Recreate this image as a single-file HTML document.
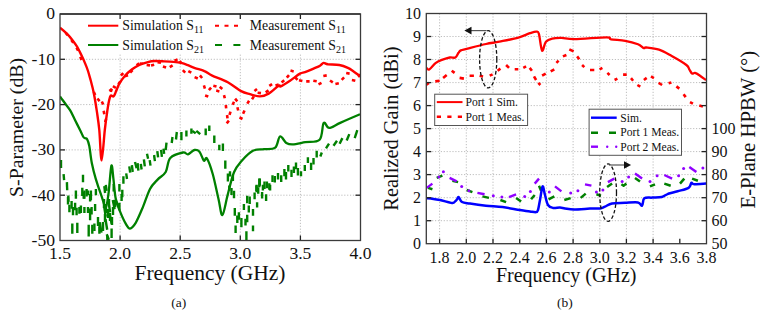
<!DOCTYPE html><html><head><meta charset="utf-8"><style>html,body{margin:0;padding:0;background:#fff;width:764px;height:315px;overflow:hidden}</style></head><body><svg width="764" height="315" viewBox="0 0 764 315" style="display:block">
<rect width="764" height="315" fill="#fff"/>
<g stroke="#bdbdbd" stroke-width="1" stroke-dasharray="1.2,1.7"><line x1="120.1" y1="14.0" x2="120.1" y2="240.5"/><line x1="180.2" y1="14.0" x2="180.2" y2="240.5"/><line x1="240.3" y1="14.0" x2="240.3" y2="240.5"/><line x1="300.4" y1="14.0" x2="300.4" y2="240.5"/><line x1="60.0" y1="59.3" x2="360.5" y2="59.3"/><line x1="60.0" y1="104.6" x2="360.5" y2="104.6"/><line x1="60.0" y1="149.9" x2="360.5" y2="149.9"/><line x1="60.0" y1="195.2" x2="360.5" y2="195.2"/></g>
<defs><clipPath id="cl"><rect x="60.0" y="14.0" width="300.5" height="226.5"/></clipPath><clipPath id="cr"><rect x="426.3" y="13.5" width="280.2" height="230.2"/></clipPath></defs>
<g clip-path="url(#cl)" fill="none" stroke-linejoin="round">
<g stroke="#008000" stroke-width="2.4"><line x1="61.0" y1="160.1" x2="61.0" y2="167.9"/><line x1="63.6" y1="174.1" x2="64.1" y2="180.2"/><line x1="66.9" y1="182.1" x2="67.2" y2="190.2"/><line x1="68.3" y1="195.5" x2="68.5" y2="201.9"/><line x1="75.9" y1="190.5" x2="75.9" y2="198.8"/><line x1="83.0" y1="174.8" x2="83.0" y2="182.3"/><line x1="82.3" y1="187.7" x2="82.3" y2="195.9"/><line x1="84.4" y1="190.5" x2="84.4" y2="198.8"/><line x1="86.6" y1="189.1" x2="86.6" y2="196.6"/><line x1="88.0" y1="190.5" x2="88.0" y2="195.2"/><line x1="90.9" y1="190.5" x2="90.9" y2="200.2"/><line x1="95.9" y1="189.1" x2="95.9" y2="195.2"/><line x1="68.0" y1="197.0" x2="68.0" y2="204.5"/><line x1="69.4" y1="204.8" x2="69.4" y2="212.3"/><line x1="71.6" y1="201.1" x2="71.6" y2="208.8"/><line x1="73.0" y1="207.0" x2="73.0" y2="215.2"/><line x1="75.1" y1="202.7" x2="75.1" y2="210.2"/><line x1="76.6" y1="207.7" x2="76.6" y2="215.2"/><line x1="79.4" y1="207.0" x2="79.4" y2="213.8"/><line x1="80.9" y1="205.5" x2="80.9" y2="213.0"/><line x1="84.4" y1="207.0" x2="84.4" y2="213.0"/><line x1="88.0" y1="207.0" x2="88.0" y2="213.0"/><line x1="90.1" y1="208.4" x2="90.1" y2="220.2"/><line x1="91.6" y1="207.0" x2="91.6" y2="214.5"/><line x1="95.1" y1="204.1" x2="95.1" y2="210.9"/><line x1="72.3" y1="223.4" x2="72.3" y2="233.8"/><line x1="77.3" y1="222.7" x2="77.3" y2="233.0"/><line x1="88.7" y1="224.8" x2="88.7" y2="236.6"/><line x1="92.3" y1="224.8" x2="92.3" y2="233.8"/><line x1="94.4" y1="223.4" x2="94.4" y2="230.9"/><line x1="98.0" y1="217.0" x2="98.0" y2="225.9"/><line x1="99.4" y1="226.2" x2="99.4" y2="233.8"/><line x1="83.7" y1="192.1" x2="83.7" y2="198.8"/><line x1="90.1" y1="194.1" x2="90.1" y2="201.6"/><line x1="104.3" y1="186.2" x2="105.1" y2="193.0"/><line x1="105.8" y1="184.8" x2="106.6" y2="190.9"/><line x1="113.7" y1="184.1" x2="113.7" y2="191.6"/><line x1="119.4" y1="184.1" x2="119.4" y2="191.6"/><line x1="122.3" y1="189.8" x2="122.3" y2="197.3"/><line x1="123.4" y1="176.2" x2="123.4" y2="183.8"/><line x1="100.0" y1="222.7" x2="100.0" y2="231.6"/><line x1="103.0" y1="222.0" x2="103.0" y2="230.9"/><line x1="111.6" y1="228.4" x2="111.6" y2="238.0"/><line x1="107.3" y1="235.5" x2="107.3" y2="240.9"/><line x1="115.1" y1="199.8" x2="115.1" y2="207.3"/><line x1="119.4" y1="202.7" x2="119.4" y2="210.2"/><line x1="121.6" y1="194.1" x2="121.6" y2="200.9"/><line x1="104.0" y1="199.1" x2="104.0" y2="207.9"/><line x1="106.0" y1="204.1" x2="106.0" y2="212.9"/><line x1="108.0" y1="209.1" x2="108.0" y2="217.9"/><line x1="110.0" y1="213.1" x2="110.0" y2="220.9"/><line x1="105.0" y1="214.1" x2="105.0" y2="221.9"/><line x1="112.0" y1="217.1" x2="112.0" y2="224.9"/><line x1="109.0" y1="199.1" x2="109.0" y2="206.9"/><line x1="113.0" y1="207.1" x2="113.0" y2="214.9"/><line x1="165.7" y1="150.2" x2="166.5" y2="142.7"/><line x1="171.7" y1="143.0" x2="172.5" y2="137.0"/><line x1="176.0" y1="139.5" x2="176.8" y2="132.0"/><line x1="181.4" y1="140.2" x2="181.4" y2="132.0"/><line x1="186.4" y1="136.6" x2="186.4" y2="130.5"/><line x1="191.4" y1="133.8" x2="191.4" y2="128.4"/><line x1="192.3" y1="130.9" x2="195.7" y2="133.4"/><line x1="196.3" y1="130.8" x2="200.2" y2="134.2"/><line x1="205.7" y1="135.2" x2="205.7" y2="128.4"/><line x1="209.3" y1="130.9" x2="209.3" y2="125.5"/><line x1="214.3" y1="135.5" x2="214.3" y2="143.0"/><line x1="219.3" y1="144.8" x2="219.3" y2="150.2"/><line x1="222.9" y1="143.4" x2="222.9" y2="150.9"/><line x1="225.3" y1="160.5" x2="225.3" y2="168.8"/><line x1="227.9" y1="173.4" x2="227.9" y2="181.6"/><line x1="230.0" y1="171.2" x2="230.0" y2="176.6"/><line x1="232.9" y1="174.8" x2="232.9" y2="180.9"/><line x1="229.3" y1="185.5" x2="229.3" y2="190.9"/><line x1="256.4" y1="185.5" x2="256.4" y2="190.9"/><line x1="259.3" y1="178.4" x2="259.3" y2="187.3"/><line x1="231.5" y1="188.1" x2="231.5" y2="195.0"/><line x1="234.0" y1="190.8" x2="234.0" y2="198.3"/><line x1="234.8" y1="208.1" x2="234.8" y2="215.7"/><line x1="237.3" y1="215.5" x2="237.3" y2="223.1"/><line x1="238.9" y1="212.2" x2="238.9" y2="219.8"/><line x1="241.4" y1="218.0" x2="241.4" y2="227.2"/><line x1="235.6" y1="225.4" x2="235.6" y2="233.0"/><line x1="243.9" y1="204.0" x2="243.9" y2="209.9"/><line x1="245.5" y1="218.8" x2="245.5" y2="225.6"/><line x1="247.2" y1="214.7" x2="247.2" y2="222.3"/><line x1="246.4" y1="231.2" x2="246.4" y2="240.4"/><line x1="247.2" y1="195.7" x2="247.2" y2="203.3"/><line x1="249.7" y1="196.5" x2="249.7" y2="204.1"/><line x1="248.8" y1="205.6" x2="248.8" y2="212.4"/><line x1="253.0" y1="208.9" x2="253.0" y2="215.7"/><line x1="253.0" y1="225.4" x2="253.0" y2="231.3"/><line x1="254.6" y1="192.4" x2="254.6" y2="199.2"/><line x1="257.1" y1="202.3" x2="257.1" y2="207.4"/><line x1="256.6" y1="184.8" x2="256.6" y2="192.2"/><line x1="258.2" y1="187.2" x2="258.2" y2="193.8"/><line x1="259.8" y1="178.5" x2="259.8" y2="185.8"/><line x1="262.1" y1="192.0" x2="262.1" y2="198.5"/><line x1="262.9" y1="184.8" x2="262.9" y2="190.6"/><line x1="264.5" y1="181.6" x2="264.5" y2="189.0"/><line x1="266.9" y1="181.6" x2="266.9" y2="188.2"/><line x1="266.1" y1="194.3" x2="266.1" y2="200.9"/><line x1="269.3" y1="183.2" x2="269.3" y2="189.8"/><line x1="270.1" y1="184.8" x2="270.1" y2="190.6"/><line x1="272.5" y1="175.3" x2="272.5" y2="181.9"/><line x1="274.8" y1="176.1" x2="274.8" y2="182.6"/><line x1="278.0" y1="172.9" x2="278.0" y2="179.5"/><line x1="281.2" y1="175.3" x2="281.2" y2="181.9"/><line x1="284.4" y1="168.9" x2="284.4" y2="176.3"/><line x1="286.0" y1="172.1" x2="286.0" y2="179.5"/><line x1="288.3" y1="165.0" x2="288.3" y2="171.5"/><line x1="291.5" y1="169.7" x2="291.5" y2="177.1"/><line x1="293.9" y1="166.6" x2="293.9" y2="173.1"/><line x1="296.0" y1="162.6" x2="296.0" y2="169.2"/><line x1="297.9" y1="168.1" x2="297.9" y2="175.5"/><line x1="301.0" y1="171.3" x2="301.0" y2="176.3"/><line x1="304.8" y1="165.1" x2="304.8" y2="170.9"/><line x1="307.9" y1="157.2" x2="307.9" y2="163.0"/><line x1="311.1" y1="162.8" x2="311.1" y2="170.1"/><line x1="313.5" y1="158.0" x2="313.5" y2="164.6"/><line x1="316.7" y1="150.8" x2="316.7" y2="157.4"/><line x1="320.3" y1="156.5" x2="321.8" y2="152.5"/><line x1="326.0" y1="148.4" x2="329.0" y2="143.6"/><line x1="333.5" y1="145.7" x2="337.0" y2="140.8"/><line x1="339.6" y1="143.7" x2="342.4" y2="138.1"/><line x1="346.7" y1="140.5" x2="349.3" y2="134.1"/><line x1="354.7" y1="138.2" x2="357.3" y2="130.1"/><line x1="126.2" y1="173.4" x2="127.0" y2="179.0"/><line x1="129.3" y1="166.4" x2="130.2" y2="172.6"/><line x1="131.9" y1="165.1" x2="132.7" y2="172.0"/><line x1="135.0" y1="162.0" x2="136.6" y2="168.2"/><line x1="137.6" y1="163.2" x2="138.4" y2="170.7"/><line x1="140.8" y1="163.9" x2="141.6" y2="169.5"/><line x1="143.9" y1="159.4" x2="144.8" y2="166.3"/><line x1="147.0" y1="153.7" x2="148.1" y2="158.7"/><line x1="149.7" y1="160.1" x2="150.5" y2="165.7"/><line x1="154.1" y1="155.0" x2="154.9" y2="161.2"/><line x1="157.3" y1="151.2" x2="158.1" y2="157.4"/><line x1="161.1" y1="149.9" x2="161.9" y2="156.8"/><line x1="163.6" y1="148.6" x2="164.1" y2="153.9"/><line x1="104.1" y1="206.1" x2="105.7" y2="216.6"/><line x1="108.5" y1="201.7" x2="110.1" y2="212.2"/><line x1="112.8" y1="200.1" x2="114.6" y2="209.3"/><line x1="115.6" y1="200.2" x2="119.2" y2="207.8"/><line x1="109.8" y1="214.8" x2="111.7" y2="223.9"/><line x1="105.5" y1="219.1" x2="107.2" y2="229.8"/><line x1="99.6" y1="222.1" x2="101.5" y2="232.6"/><line x1="106.7" y1="234.2" x2="108.9" y2="239.8"/></g>
<g stroke="#ff0000" stroke-width="2.6"><line x1="65.6" y1="32.7" x2="67.6" y2="35.3"/><line x1="71.3" y1="39.9" x2="73.3" y2="42.7"/><line x1="76.5" y1="47.6" x2="78.1" y2="50.6"/><line x1="80.3" y1="56.8" x2="81.5" y2="60.0"/><line x1="93.8" y1="91.9" x2="95.2" y2="95.1"/><line x1="97.4" y1="98.5" x2="99.6" y2="101.1"/><line x1="101.8" y1="101.4" x2="103.2" y2="104.6"/><line x1="103.7" y1="110.8" x2="104.3" y2="114.2"/><line x1="105.1" y1="122.1" x2="106.1" y2="118.9"/><line x1="110.8" y1="91.9" x2="111.6" y2="88.7"/><line x1="115.9" y1="88.0" x2="112.9" y2="86.2"/><line x1="109.4" y1="91.1" x2="112.0" y2="88.9"/><line x1="118.3" y1="84.3" x2="120.3" y2="81.5"/><line x1="120.9" y1="75.5" x2="123.3" y2="73.1"/><line x1="124.8" y1="76.2" x2="128.0" y2="75.2"/><line x1="130.2" y1="72.6" x2="132.6" y2="70.2"/><line x1="136.6" y1="65.3" x2="139.2" y2="63.3"/><line x1="139.7" y1="63.5" x2="143.1" y2="63.7"/><line x1="146.6" y1="65.0" x2="150.0" y2="65.4"/><line x1="151.0" y1="65.6" x2="154.2" y2="64.8"/><line x1="157.6" y1="62.1" x2="161.0" y2="62.7"/><line x1="162.9" y1="66.6" x2="166.1" y2="67.6"/><line x1="169.8" y1="67.1" x2="172.6" y2="65.3"/><line x1="174.4" y1="60.6" x2="177.6" y2="59.4"/><line x1="179.7" y1="61.0" x2="181.7" y2="63.8"/><line x1="182.8" y1="70.2" x2="185.2" y2="72.6"/><line x1="188.3" y1="71.1" x2="191.3" y2="72.7"/><line x1="194.6" y1="77.1" x2="197.8" y2="78.5"/><line x1="199.9" y1="75.4" x2="202.1" y2="78.0"/><line x1="203.9" y1="85.4" x2="204.9" y2="88.6"/><line x1="205.1" y1="95.5" x2="208.3" y2="96.5"/><line x1="208.9" y1="90.2" x2="211.1" y2="87.6"/><line x1="213.3" y1="85.8" x2="216.5" y2="86.6"/><line x1="216.2" y1="90.6" x2="219.4" y2="91.4"/><line x1="219.7" y1="86.7" x2="222.3" y2="88.9"/><line x1="224.0" y1="95.1" x2="224.8" y2="98.3"/><line x1="225.8" y1="105.0" x2="226.2" y2="108.4"/><line x1="227.1" y1="115.0" x2="227.5" y2="118.4"/><line x1="226.7" y1="123.3" x2="228.9" y2="120.7"/><line x1="229.5" y1="114.9" x2="230.5" y2="111.7"/><line x1="232.6" y1="104.8" x2="234.0" y2="101.8"/><line x1="235.1" y1="98.7" x2="237.3" y2="101.3"/><line x1="237.4" y1="107.3" x2="238.2" y2="110.5"/><line x1="239.5" y1="117.4" x2="242.5" y2="119.0"/><line x1="243.1" y1="113.8" x2="244.5" y2="110.6"/><line x1="247.3" y1="103.6" x2="249.1" y2="100.8"/><line x1="252.0" y1="99.3" x2="253.8" y2="96.5"/><line x1="254.4" y1="91.0" x2="257.0" y2="89.0"/><line x1="257.6" y1="92.7" x2="261.0" y2="93.1"/><line x1="265.7" y1="92.4" x2="268.5" y2="90.4"/><line x1="269.3" y1="85.9" x2="272.1" y2="84.1"/><line x1="275.5" y1="85.5" x2="278.7" y2="84.5"/><line x1="281.6" y1="82.5" x2="284.2" y2="80.3"/><line x1="286.8" y1="77.7" x2="289.0" y2="75.1"/><line x1="290.5" y1="70.6" x2="293.7" y2="71.4"/><line x1="295.3" y1="77.3" x2="297.5" y2="79.9"/><line x1="299.0" y1="80.3" x2="302.4" y2="81.1"/><line x1="306.2" y1="81.4" x2="309.6" y2="81.4"/><line x1="313.3" y1="80.7" x2="316.7" y2="81.3"/><line x1="318.5" y1="84.4" x2="321.5" y2="82.8"/><line x1="323.3" y1="76.0" x2="326.7" y2="75.4"/><line x1="330.0" y1="80.5" x2="332.8" y2="82.3"/><line x1="335.4" y1="84.0" x2="338.8" y2="83.2"/><line x1="341.7" y1="79.8" x2="344.1" y2="77.4"/><line x1="346.2" y1="73.0" x2="349.6" y2="73.6"/><line x1="351.9" y1="80.0" x2="355.3" y2="80.8"/><line x1="358.0" y1="76.8" x2="360.6" y2="74.6"/></g>
<path d="M60.0,96.4 C60.8,97.6 63.3,101.0 65.0,103.3 C66.7,105.6 68.5,107.6 70.2,110.4 C71.9,113.2 73.3,116.6 75.0,120.0 C76.7,123.4 79.0,127.9 80.4,130.7 C81.8,133.5 82.6,135.7 83.4,137.0 C84.2,138.3 84.7,138.0 85.3,138.3 C85.9,138.6 86.3,137.7 87.0,139.0 C87.7,140.3 88.5,142.0 89.3,146.0 C90.1,150.0 90.7,157.6 91.8,163.0 C92.9,168.4 94.1,173.2 95.7,178.6 C97.3,184.0 99.7,191.0 101.4,195.7 C103.1,200.4 104.5,207.5 105.7,207.0 C106.9,206.5 107.6,199.8 108.6,192.9 C109.5,186.0 110.6,168.1 111.4,165.7 C112.2,163.3 112.7,173.1 113.4,178.6 C114.1,184.1 114.6,193.1 115.7,198.6 C116.8,204.1 118.3,207.2 120.0,211.4 C121.7,215.6 124.0,220.8 125.7,223.7 C127.4,226.6 128.3,228.7 130.0,228.6 C131.7,228.5 133.5,226.5 135.7,222.9 C137.8,219.3 140.5,212.8 142.9,207.1 C145.3,201.4 147.6,193.6 150.0,189.0 C152.4,184.4 155.0,182.4 157.6,179.6 C160.2,176.8 163.6,175.6 165.7,172.0 C167.8,168.4 167.4,161.2 170.3,158.0 C173.2,154.8 180.1,153.1 183.0,152.5 C185.9,151.9 186.1,154.7 188.0,154.3 C189.9,153.9 192.5,150.4 194.4,150.0 C196.3,149.6 197.9,149.9 199.5,151.7 C201.1,153.5 202.6,159.4 203.8,160.6 C205.1,161.8 205.5,156.3 207.0,158.6 C208.5,160.9 210.9,167.5 212.8,174.3 C214.7,181.1 217.0,192.7 218.6,199.5 C220.2,206.3 220.9,215.7 222.4,215.0 C223.9,214.3 225.6,202.7 227.5,195.6 C229.4,188.5 231.6,178.1 234.0,172.3 C236.4,166.5 238.7,164.3 241.8,160.7 C245.0,157.1 249.2,152.7 252.9,150.8 C256.6,148.9 260.3,149.7 264.0,149.2 C267.7,148.7 272.5,149.7 275.2,147.6 C277.9,145.5 278.1,137.3 280.0,136.5 C281.9,135.7 284.2,141.6 286.3,142.9 C288.4,144.2 289.4,144.5 292.6,144.4 C295.8,144.3 300.8,143.0 305.3,142.2 C309.8,141.4 316.5,142.9 319.6,139.7 C322.7,136.5 322.1,124.9 323.7,122.9 C325.3,120.9 326.4,127.9 329.1,127.9 C331.9,127.9 335.1,125.2 340.2,122.9 C345.3,120.6 356.7,115.7 360.0,114.3" stroke="#008000" stroke-width="2.3"/>
<path d="M60.0,27.7 C61.1,28.6 64.5,31.4 66.6,33.4 C68.6,35.4 70.5,37.6 72.3,39.9 C74.1,42.2 75.8,44.4 77.3,47.0 C78.8,49.6 80.3,52.9 81.6,55.6 C82.9,58.3 84.0,60.8 85.1,63.4 C86.2,66.0 87.1,68.2 88.0,71.0 C88.9,73.8 89.6,76.4 90.6,80.0 C91.5,83.6 92.7,87.4 93.7,92.7 C94.8,98.0 96.0,105.5 96.9,111.7 C97.8,117.9 98.5,121.9 99.3,130.0 C100.1,138.1 100.7,160.4 101.6,160.4 C102.5,160.4 103.9,138.1 104.8,130.0 C105.7,121.9 106.5,116.5 107.2,111.7 C107.9,106.9 108.4,103.7 109.0,101.0 C109.6,98.3 109.9,96.5 110.7,95.7 C111.5,94.9 112.8,97.0 113.6,96.4 C114.4,95.8 114.8,94.2 115.7,92.1 C116.7,90.0 117.8,86.3 119.3,83.6 C120.8,80.9 122.9,78.1 125.0,75.7 C127.1,73.3 129.7,71.1 132.1,69.3 C134.5,67.5 136.7,66.2 139.3,65.0 C141.9,63.8 145.4,62.8 147.9,62.1 C150.4,61.4 151.8,61.1 154.5,61.0 C157.2,60.9 160.8,61.2 164.0,61.4 C167.2,61.5 170.7,61.6 173.6,61.9 C176.5,62.1 178.8,62.3 181.2,62.9 C183.6,63.5 185.6,64.3 187.9,65.2 C190.2,66.1 192.2,67.1 195.0,68.1 C197.8,69.1 201.5,69.8 204.4,71.1 C207.3,72.3 208.3,73.8 212.2,75.6 C216.1,77.4 223.0,79.6 227.8,82.2 C232.6,84.8 237.4,89.1 241.1,91.1 C244.8,93.1 246.8,93.3 250.0,94.2 C253.2,95.1 256.9,96.5 260.0,96.4 C263.1,96.3 265.5,95.4 268.6,93.6 C271.7,91.8 276.6,86.9 278.6,85.7 C280.6,84.5 278.8,87.2 280.7,86.4 C282.6,85.6 286.8,82.8 290.0,80.7 C293.2,78.6 297.5,75.0 300.0,73.6 C302.5,72.2 302.7,72.9 305.0,72.1 C307.3,71.3 311.1,69.7 313.6,68.6 C316.1,67.5 318.3,66.7 320.0,65.7 C321.7,64.8 322.3,63.1 323.6,62.9 C324.9,62.7 325.3,63.9 327.9,64.3 C330.5,64.6 336.0,64.4 339.3,65.0 C342.6,65.6 345.5,66.8 347.9,67.9 C350.3,69.0 351.5,70.0 353.6,71.4 C355.7,72.8 359.4,75.7 360.5,76.5" stroke="#ff0000" stroke-width="2.4"/>
</g>
<g stroke="#222" stroke-width="1.3"><line x1="120.1" y1="14.0" x2="120.1" y2="19.0"/><line x1="120.1" y1="240.5" x2="120.1" y2="235.5"/><line x1="180.2" y1="14.0" x2="180.2" y2="19.0"/><line x1="180.2" y1="240.5" x2="180.2" y2="235.5"/><line x1="240.3" y1="14.0" x2="240.3" y2="19.0"/><line x1="240.3" y1="240.5" x2="240.3" y2="235.5"/><line x1="300.4" y1="14.0" x2="300.4" y2="19.0"/><line x1="300.4" y1="240.5" x2="300.4" y2="235.5"/><line x1="60.0" y1="59.3" x2="65.0" y2="59.3"/><line x1="360.5" y1="59.3" x2="355.5" y2="59.3"/><line x1="60.0" y1="104.6" x2="65.0" y2="104.6"/><line x1="360.5" y1="104.6" x2="355.5" y2="104.6"/><line x1="60.0" y1="149.9" x2="65.0" y2="149.9"/><line x1="360.5" y1="149.9" x2="355.5" y2="149.9"/><line x1="60.0" y1="195.2" x2="65.0" y2="195.2"/><line x1="360.5" y1="195.2" x2="355.5" y2="195.2"/></g>
<rect x="60.0" y="14.0" width="300.5" height="226.5" fill="none" stroke="#3a3a3a" stroke-width="1.3"/>
<g font-family='"Liberation Serif", serif' font-size="17.6" fill="#111"><text x="55" y="19.3" text-anchor="end">0</text><text x="55" y="64.6" text-anchor="end">-10</text><text x="55" y="109.9" text-anchor="end">-20</text><text x="55" y="155.2" text-anchor="end">-30</text><text x="55" y="200.5" text-anchor="end">-40</text><text x="55" y="245.8" text-anchor="end">-50</text><text x="60.0" y="259.4" text-anchor="middle">1.5</text><text x="120.1" y="259.4" text-anchor="middle">2.0</text><text x="180.2" y="259.4" text-anchor="middle">2.5</text><text x="240.3" y="259.4" text-anchor="middle">3.0</text><text x="300.4" y="259.4" text-anchor="middle">3.5</text><text x="360.5" y="259.4" text-anchor="middle">4.0</text></g>
<text x="210" y="280" text-anchor="middle" font-family='"Liberation Serif", serif' font-size="21.5" fill="#111">Frequency (GHz)</text>
<text transform="translate(22.7,127.4) rotate(-90)" text-anchor="middle" font-family='"Liberation Serif", serif' font-size="19.8" fill="#111">S-Parameter (dB)</text>
<text x="178.7" y="306.5" text-anchor="middle" font-family='"Liberation Serif", serif' font-size="13.5" fill="#111">(a)</text>
<rect x="84" y="15" width="272" height="38" fill="#fff"/><line x1="88" y1="25.7" x2="118.3" y2="25.7" stroke="#ff0000" stroke-width="2"/><line x1="88" y1="45" x2="118.3" y2="45" stroke="#008000" stroke-width="2"/><line x1="215" y1="25.7" x2="240.4" y2="25.7" stroke="#ff0000" stroke-width="2" stroke-dasharray="4,5.5"/><line x1="215" y1="45" x2="240.4" y2="45" stroke="#008000" stroke-width="2" stroke-dasharray="7,11.4"/>
<text x="122.3" y="30.2" font-family='"Liberation Serif", serif' font-size="13.8" fill="#111">Simulation S<tspan font-size="10" dy="3">11</tspan></text>
<text x="122.3" y="49.5" font-family='"Liberation Serif", serif' font-size="13.8" fill="#111">Simulation S<tspan font-size="10" dy="3">21</tspan></text>
<text x="249.8" y="30.2" font-family='"Liberation Serif", serif' font-size="13.8" fill="#111">Measurement S<tspan font-size="10" dy="3">11</tspan></text>
<text x="249.8" y="49.5" font-family='"Liberation Serif", serif' font-size="13.8" fill="#111">Measurement S<tspan font-size="10" dy="3">21</tspan></text>
<g stroke="#222" stroke-width="1.3"><line x1="120.1" y1="14.0" x2="120.1" y2="19.0"/><line x1="180.2" y1="14.0" x2="180.2" y2="19.0"/><line x1="240.3" y1="14.0" x2="240.3" y2="19.0"/><line x1="300.4" y1="14.0" x2="300.4" y2="19.0"/></g>
<line x1="60.0" y1="14.0" x2="360.5" y2="14.0" stroke="#333" stroke-width="1.3"/>
<g stroke="#bdbdbd" stroke-width="1" stroke-dasharray="1.2,1.7"><line x1="439.6" y1="13.5" x2="439.6" y2="243.7"/><line x1="466.3" y1="13.5" x2="466.3" y2="243.7"/><line x1="493.0" y1="13.5" x2="493.0" y2="243.7"/><line x1="519.7" y1="13.5" x2="519.7" y2="243.7"/><line x1="546.4" y1="13.5" x2="546.4" y2="243.7"/><line x1="573.1" y1="13.5" x2="573.1" y2="243.7"/><line x1="599.8" y1="13.5" x2="599.8" y2="243.7"/><line x1="626.4" y1="13.5" x2="626.4" y2="243.7"/><line x1="653.1" y1="13.5" x2="653.1" y2="243.7"/><line x1="426.3" y1="220.7" x2="706.5" y2="220.7"/><line x1="426.3" y1="197.7" x2="706.5" y2="197.7"/><line x1="426.3" y1="174.6" x2="706.5" y2="174.6"/><line x1="426.3" y1="151.6" x2="706.5" y2="151.6"/><line x1="426.3" y1="128.6" x2="706.5" y2="128.6"/><line x1="426.3" y1="105.6" x2="706.5" y2="105.6"/><line x1="426.3" y1="82.6" x2="706.5" y2="82.6"/><line x1="426.3" y1="59.5" x2="706.5" y2="59.5"/><line x1="426.3" y1="36.5" x2="706.5" y2="36.5"/></g>
<g clip-path="url(#cr)" fill="none" stroke-linejoin="round">
<g stroke="#ff0000" stroke-width="2.6"><path d="M426.0,85.0 L428.9,82.9"/><path d="M435.3,81.4 L439.6,80.7"/><path d="M443.1,77.9 L446.7,75.0"/><path d="M451.7,70.7 L454.6,72.9"/><path d="M459.6,77.9 L463.9,78.6"/><path d="M469.6,75.7 L473.9,75.7"/><path d="M479.6,75.7 L483.1,76.4"/><path d="M489.7,75.7 L492.6,74.3"/><path d="M497.6,70.7 L500.4,68.6"/><path d="M506.1,65.0 L509.0,67.9"/><path d="M514.7,69.3 L518.3,69.3"/><path d="M523.3,67.9 L526.1,66.4"/><path d="M529.7,67.9 L531.9,70.7"/><path d="M534.0,76.4 L536.1,80.0"/><path d="M538.3,82.9 L540.4,85.0"/><path d="M542.1,75.7 L545.7,73.6"/><path d="M550.7,71.4 L554.3,69.3"/><path d="M556.4,62.9 L558.6,60.7"/><path d="M562.9,56.4 L566.4,55.0"/><path d="M569.3,49.3 L573.6,51.4"/><path d="M577.1,56.4 L579.3,59.3"/><path d="M582.1,65.0 L584.3,67.1"/><path d="M590.0,70.0 L594.3,70.0"/><path d="M599.6,69.3 L602.4,67.9"/><path d="M607.4,72.9 L609.6,75.0"/><path d="M614.6,80.0 L617.4,78.6"/><path d="M623.1,74.6 L626.7,74.6"/><path d="M631.0,78.1 L633.1,80.7"/><path d="M637.4,85.0 L640.3,86.7"/><path d="M643.9,80.0 L646.7,77.9"/><path d="M651.0,76.4 L653.9,78.1"/><path d="M658.6,82.9 L662.1,85.0"/><path d="M668.6,83.3 L671.4,82.4"/><path d="M676.4,86.4 L679.3,88.6"/><path d="M683.6,94.3 L685.7,97.1"/><path d="M690.0,102.1 L692.9,103.6"/><path d="M699.3,105.4 L702.9,106.4"/></g>
<path d="M426.5,67.9 C426.9,68.2 427.7,70.2 429.2,69.4 C430.7,68.6 433.4,64.7 435.5,63.1 C437.6,61.5 439.5,60.8 441.9,59.9 C444.3,59.0 447.6,57.9 449.8,57.5 C452.1,57.1 453.9,58.3 455.4,57.5 C456.8,56.7 457.6,54.0 458.5,52.8 C459.4,51.6 459.4,51.1 460.9,50.4 C462.4,49.7 463.4,49.8 467.6,48.7 C471.8,47.6 480.7,45.2 486.0,44.0 C491.3,42.8 494.0,42.8 499.4,41.7 C504.8,40.6 513.3,39.0 518.4,37.6 C523.5,36.2 527.0,34.2 530.0,33.2 C533.0,32.2 534.8,31.5 536.3,31.6 C537.8,31.7 537.9,30.6 538.9,33.8 C539.9,37.0 540.9,49.3 542.1,50.6 C543.3,51.9 544.2,43.7 545.9,41.7 C547.6,39.7 549.6,39.2 552.2,38.6 C554.8,38.0 558.0,37.8 561.7,37.9 C565.4,38.0 566.9,39.3 574.4,39.2 C581.9,39.1 600.4,37.3 606.5,37.3 C612.6,37.3 607.9,38.7 611.0,39.3 C614.1,39.9 620.7,40.0 625.2,40.8 C629.7,41.6 634.9,43.1 638.0,44.3 C641.1,45.5 642.4,47.6 643.8,48.1 C645.2,48.6 643.8,47.2 646.3,47.5 C648.8,47.8 654.8,48.3 659.0,49.7 C663.2,51.1 667.1,53.5 671.7,56.0 C676.3,58.5 683.5,62.8 686.4,65.0 C689.3,67.2 688.3,67.9 689.3,69.3 C690.2,70.7 691.1,73.0 692.1,73.6 C693.1,74.2 693.7,72.6 695.0,72.9 C696.3,73.2 698.2,74.5 700.0,75.7 C701.8,76.9 705.0,79.3 706.0,80.0" stroke="#ff0000" stroke-width="2.3"/>
<g stroke="#008000" stroke-width="2.5"><path d="M428.1,187.9 L432.4,189.3"/><path d="M436.7,177.9 L442.4,175.7"/><path d="M452.4,180.7 L458.1,182.1"/><path d="M466.7,190.0 L472.4,192.1"/><path d="M482.4,196.4 L489.0,197.9"/><path d="M500.4,200.0 L506.1,202.1"/><path d="M516.1,197.9 L521.1,201.4"/><path d="M531.1,199.3 L534.7,195.0"/><path d="M539.0,185.7 L541.1,190.7"/><path d="M548.6,199.3 L554.3,196.4"/><path d="M564.3,200.0 L570.7,198.1"/><path d="M580.7,197.9 L585.7,193.6"/><path d="M596.4,194.3 L601.0,195.7"/><path d="M607.1,187.1 L612.1,183.6"/><path d="M621.4,184.3 L623.6,185.7 L626.4,183.6"/><path d="M635.0,177.9 L640.0,181.4"/><path d="M650.0,186.4 L655.0,184.3"/><path d="M664.3,183.6 L670.7,185.7"/><path d="M680.0,183.6 L684.3,178.6"/><path d="M692.1,178.6 L697.9,180.7"/></g>
<g stroke="#9000ff" stroke-width="2.4"><path d="M426.7,187.9 L432.4,183.6"/><path d="M449.6,177.9 L456.7,181.4"/><path d="M477.4,192.9 L484.6,194.3"/><path d="M509.0,197.1 L516.1,194.3"/><path d="M534.7,183.6 L539.0,178.6"/><path d="M555.0,186.4 L561.4,191.4"/><path d="M585.0,184.3 L591.4,185.7"/><path d="M607.9,182.1 L614.3,178.6"/><path d="M635.0,173.6 L642.1,178.6"/><path d="M664.3,175.0 L672.1,178.6"/><path d="M689.3,167.1 L696.4,172.1"/></g>
<g fill="#9000ff" stroke="none"><circle cx="438.9" cy="177.1" r="1.5"/><circle cx="443.4" cy="171.7" r="1.5"/><circle cx="461.7" cy="186.4" r="1.5"/><circle cx="468.9" cy="190.7" r="1.5"/><circle cx="493.3" cy="195.7" r="1.5"/><circle cx="501.9" cy="197.1" r="1.5"/><circle cx="524.7" cy="196.4" r="1.5"/><circle cx="530.4" cy="191.4" r="1.5"/><circle cx="549.3" cy="192.1" r="1.5"/><circle cx="570.7" cy="192.9" r="1.5"/><circle cx="577.9" cy="190.7" r="1.5"/><circle cx="596.4" cy="192.1" r="1.5"/><circle cx="602.9" cy="190" r="1.5"/><circle cx="622.1" cy="181.4" r="1.5"/><circle cx="628.6" cy="177.1" r="1.5"/><circle cx="650" cy="181.4" r="1.5"/><circle cx="657.1" cy="175.7" r="1.5"/><circle cx="678.6" cy="175.7" r="1.5"/><circle cx="683.6" cy="168.6" r="1.5"/><circle cx="702.9" cy="167.9" r="1.5"/></g>
<path d="M426.5,198.3 C427.2,198.4 428.8,198.3 431.0,198.6 C433.2,198.9 436.5,199.3 440.0,200.0 C443.5,200.7 449.5,202.7 452.0,202.9 C454.5,203.2 454.1,202.1 455.0,201.5 C455.9,200.9 456.5,200.0 457.1,199.3 C457.7,198.6 457.9,196.7 458.7,197.1 C459.5,197.5 460.1,200.9 462.0,202.0 C463.9,203.1 466.0,203.0 470.0,203.6 C474.0,204.2 480.6,205.1 486.0,205.7 C491.4,206.3 496.8,206.4 502.5,207.1 C508.2,207.8 515.4,209.3 520.0,210.0 C524.6,210.7 527.3,211.1 530.0,211.4 C532.7,211.8 534.7,212.3 536.0,212.1 C537.3,211.9 537.3,212.0 538.0,210.0 C538.7,208.0 539.2,203.9 540.0,200.0 C540.8,196.1 541.8,187.2 542.6,186.4 C543.4,185.6 544.1,191.9 545.0,195.0 C545.9,198.1 546.7,202.8 548.0,205.0 C549.3,207.2 551.0,207.5 553.0,207.9 C555.0,208.3 558.0,207.4 560.0,207.5 C562.0,207.6 562.7,208.1 565.0,208.4 C567.3,208.7 569.8,209.4 574.0,209.4 C578.2,209.4 585.7,208.8 590.0,208.6 C594.3,208.4 597.5,208.7 600.0,208.4 C602.5,208.1 603.0,207.4 605.0,206.6 C607.0,205.8 608.7,204.0 612.0,203.4 C615.3,202.8 620.7,203.0 625.0,202.8 C629.3,202.6 635.0,201.9 637.9,202.4 C640.8,202.9 641.0,206.3 642.1,205.6 C643.2,204.9 642.6,199.6 644.3,198.3 C646.0,197.0 649.3,197.8 652.2,197.6 C655.1,197.4 659.1,197.6 661.7,197.0 C664.4,196.4 665.5,194.8 668.1,193.8 C670.8,192.9 674.2,192.3 677.6,191.3 C681.0,190.3 686.3,189.3 688.6,187.9 C690.9,186.5 690.5,183.5 691.4,182.9 C692.3,182.3 691.8,184.2 694.3,184.3 C696.8,184.4 704.2,183.7 706.2,183.6" stroke="#0000ff" stroke-width="2.5"/>
</g>
<g fill="none" stroke="#111" stroke-width="1.2">
<ellipse cx="488.2" cy="59.3" rx="8.6" ry="28.6" stroke-dasharray="3.6,2.2" stroke-width="1.3"/>
<ellipse cx="608.1" cy="192.6" rx="8.4" ry="28.7" stroke-dasharray="3.6,2.2" stroke-width="1.3"/>
<line x1="486.7" y1="30.6" x2="470" y2="30.6" stroke="#555" stroke-dasharray="none"/>
<line x1="608.9" y1="165" x2="625" y2="165" stroke="#555" stroke-dasharray="none"/>
</g>
<path d="M464.4,30.6 L471.5,26.8 L471.5,34.4 Z" fill="#111"/>
<path d="M631.1,165 L624,161.2 L624,168.8 Z" fill="#111"/>
<g stroke="#222" stroke-width="1.3"><line x1="439.6" y1="243.7" x2="439.6" y2="238.7"/><line x1="466.3" y1="243.7" x2="466.3" y2="238.7"/><line x1="493.0" y1="243.7" x2="493.0" y2="238.7"/><line x1="519.7" y1="243.7" x2="519.7" y2="238.7"/><line x1="546.4" y1="243.7" x2="546.4" y2="238.7"/><line x1="573.1" y1="243.7" x2="573.1" y2="238.7"/><line x1="599.8" y1="243.7" x2="599.8" y2="238.7"/><line x1="626.4" y1="243.7" x2="626.4" y2="238.7"/><line x1="653.1" y1="243.7" x2="653.1" y2="238.7"/><line x1="679.8" y1="243.7" x2="679.8" y2="238.7"/><line x1="426.3" y1="220.7" x2="431.3" y2="220.7"/><line x1="706.5" y1="220.7" x2="701.5" y2="220.7"/><line x1="426.3" y1="197.7" x2="431.3" y2="197.7"/><line x1="706.5" y1="197.7" x2="701.5" y2="197.7"/><line x1="426.3" y1="174.6" x2="431.3" y2="174.6"/><line x1="706.5" y1="174.6" x2="701.5" y2="174.6"/><line x1="426.3" y1="151.6" x2="431.3" y2="151.6"/><line x1="706.5" y1="151.6" x2="701.5" y2="151.6"/><line x1="426.3" y1="128.6" x2="431.3" y2="128.6"/><line x1="706.5" y1="128.6" x2="701.5" y2="128.6"/><line x1="426.3" y1="105.6" x2="431.3" y2="105.6"/><line x1="706.5" y1="105.6" x2="701.5" y2="105.6"/><line x1="426.3" y1="82.6" x2="431.3" y2="82.6"/><line x1="706.5" y1="82.6" x2="701.5" y2="82.6"/><line x1="426.3" y1="59.5" x2="431.3" y2="59.5"/><line x1="706.5" y1="59.5" x2="701.5" y2="59.5"/><line x1="426.3" y1="36.5" x2="431.3" y2="36.5"/><line x1="706.5" y1="36.5" x2="701.5" y2="36.5"/></g>
<rect x="426.3" y="13.5" width="280.2" height="230.2" fill="none" stroke="#3a3a3a" stroke-width="1.3"/>
<g font-family='"Liberation Serif", serif' font-size="16" fill="#111"><text x="421" y="248.8" text-anchor="end">0</text><text x="421" y="225.8" text-anchor="end">1</text><text x="421" y="202.8" text-anchor="end">2</text><text x="421" y="179.7" text-anchor="end">3</text><text x="421" y="156.7" text-anchor="end">4</text><text x="421" y="133.7" text-anchor="end">5</text><text x="421" y="110.7" text-anchor="end">6</text><text x="421" y="87.7" text-anchor="end">7</text><text x="421" y="64.6" text-anchor="end">8</text><text x="421" y="41.6" text-anchor="end">9</text><text x="421" y="18.6" text-anchor="end">10</text><text x="711.5" y="249.0">50</text><text x="711.5" y="226.0">60</text><text x="711.5" y="203.0">70</text><text x="711.5" y="179.9">80</text><text x="711.5" y="156.9">90</text><text x="711.5" y="133.9">100</text><text x="439.6" y="263.2" text-anchor="middle">1.8</text><text x="466.3" y="263.2" text-anchor="middle">2.0</text><text x="493.0" y="263.2" text-anchor="middle">2.2</text><text x="519.7" y="263.2" text-anchor="middle">2.4</text><text x="546.4" y="263.2" text-anchor="middle">2.6</text><text x="573.1" y="263.2" text-anchor="middle">2.8</text><text x="599.8" y="263.2" text-anchor="middle">3.0</text><text x="626.4" y="263.2" text-anchor="middle">3.2</text><text x="653.1" y="263.2" text-anchor="middle">3.4</text><text x="679.8" y="263.2" text-anchor="middle">3.6</text><text x="706.5" y="263.2" text-anchor="middle">3.8</text></g>
<text x="566.2" y="281.8" text-anchor="middle" font-family='"Liberation Serif", serif' font-size="20" fill="#111">Frequency (GHz)</text>
<text transform="translate(398,128.6) rotate(-90)" text-anchor="middle" font-family='"Liberation Serif", serif' font-size="20.4" fill="#111">Realized Gain (dBi)</text>
<text transform="translate(754.8,129.6) rotate(-90)" text-anchor="middle" font-family='"Liberation Serif", serif' font-size="20.75" fill="#111">E-Plane HPBW (°)</text>
<text x="564.9" y="306.5" text-anchor="middle" font-family='"Liberation Serif", serif' font-size="13.5" fill="#111">(b)</text>
<rect x="434.7" y="94.2" width="92.9" height="31.3" fill="#fff" stroke="#555" stroke-width="1"/>
<line x1="436.8" y1="102.1" x2="462.5" y2="102.1" stroke="#ff0000" stroke-width="2"/>
<line x1="436.8" y1="116.7" x2="462.5" y2="116.7" stroke="#ff0000" stroke-width="2.4" stroke-dasharray="4.2,6.3"/>
<text x="465.5" y="106.4" font-family='"Liberation Serif", serif' font-size="11.6" fill="#111">Port 1 Sim.</text>
<text x="465.5" y="120.7" font-family='"Liberation Serif", serif' font-size="11.6" fill="#111">Port 1 Meas.</text>
<rect x="589.1" y="109.2" width="92.4" height="46.1" fill="#fff" stroke="#555" stroke-width="1"/>
<line x1="591" y1="117.7" x2="616.7" y2="117.7" stroke="#0000ff" stroke-width="2.4"/>
<line x1="591" y1="132.8" x2="616.7" y2="132.8" stroke="#008000" stroke-width="2.4" stroke-dasharray="7,11"/>
<line x1="591" y1="146.7" x2="598" y2="146.7" stroke="#9000ff" stroke-width="2.4"/>
<circle cx="607.2" cy="146.7" r="1.2" fill="#9000ff"/><circle cx="616.2" cy="146.7" r="1.2" fill="#9000ff"/>
<text x="620.3" y="121.5" font-family='"Liberation Serif", serif' font-size="11.6" fill="#111">Sim.</text>
<text x="620.3" y="136.2" font-family='"Liberation Serif", serif' font-size="11.6" fill="#111">Port 1 Meas.</text>
<text x="620.3" y="150.5" font-family='"Liberation Serif", serif' font-size="11.6" fill="#111">Port 2 Meas.</text>
</svg></body></html>
